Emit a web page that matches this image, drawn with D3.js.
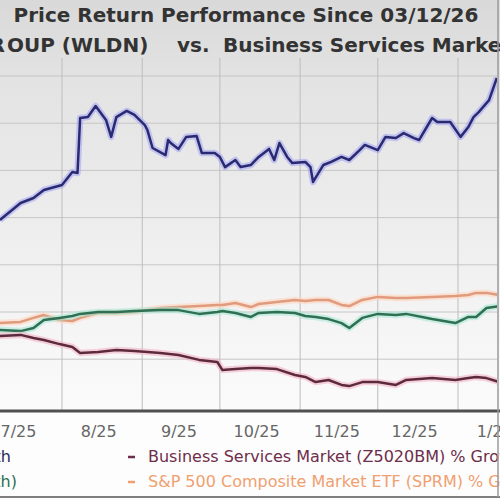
<!DOCTYPE html>
<html>
<head>
<meta charset="utf-8">
<script src="https://cdnjs.cloudflare.com/ajax/libs/d3/7.8.5/d3.min.js"></script>
<style>
  html, body { margin: 0; padding: 0; background: #fff; }
  svg { display: block; }
  .title { font-family: "DejaVu Sans", sans-serif; font-weight: bold; fill: #333; }
  .legend { font-family: "DejaVu Sans", sans-serif; font-size: 16px; }
  .tick text { font-family: "DejaVu Sans", sans-serif; font-size: 16px; fill: #666; }
</style>
</head>
<body>
<div id="chart"></div>
<script>
// WLDN price return, %
let wldnDates = ["2025-07-08","2025-07-16","2025-07-21","2025-07-25","2025-08-01","2025-08-05","2025-08-07",
  "2025-08-08","2025-08-11","2025-08-14","2025-08-18","2025-08-20","2025-08-22","2025-08-26","2025-08-29",
  "2025-09-02","2025-09-03","2025-09-05","2025-09-10","2025-09-11","2025-09-12","2025-09-15","2025-09-18",
  "2025-09-22","2025-09-24","2025-09-29","2025-10-01","2025-10-03","2025-10-07","2025-10-09","2025-10-13",
  "2025-10-16","2025-10-20","2025-10-22","2025-10-24","2025-10-27","2025-10-29","2025-11-03","2025-11-05",
  "2025-11-06","2025-11-10","2025-11-13","2025-11-17","2025-11-20","2025-11-24","2025-11-26","2025-12-01",
  "2025-12-04","2025-12-08","2025-12-11","2025-12-15","2025-12-17","2025-12-22","2025-12-24","2025-12-29",
  "2026-01-02","2026-01-05","2026-01-07","2026-01-09","2026-01-13","2026-01-16"];
let wldnValues = [39.0,46.2,48.3,51.7,53.8,59.3,58.9,
  82.2,82.6,87.3,81.4,74.2,82.6,85.2,83.5,
  79.2,77.1,69.5,66.5,72.9,71.6,69.1,74.2,
  74.6,67.4,67.4,65.7,61.4,64.4,61.4,62.3,
  65.7,69.1,64.4,71.6,65.7,63.1,63.6,61.4,
  55.1,62.3,63.6,65.7,64.4,68.6,70.8,68.6,
  74.2,73.7,75.8,73.7,72.9,82.2,80.5,80.5,
  74.2,78.4,82.6,84.7,89.8,99.2];

// the three comparison series share these dates
let otherDates = ["2025-07-08","2025-07-16","2025-07-21","2025-07-25","2025-07-31","2025-08-05","2025-08-08",
  "2025-08-15","2025-08-22","2025-08-29","2025-09-08","2025-09-15","2025-09-23","2025-09-30","2025-10-02",
  "2025-10-07","2025-10-13","2025-10-16","2025-10-23","2025-10-30","2025-11-03","2025-11-07","2025-11-12",
  "2025-11-17","2025-11-20","2025-11-25","2025-12-01","2025-12-08","2025-12-12","2025-12-22","2025-12-31",
  "2026-01-05","2026-01-08","2026-01-12","2026-01-17"];
let spValues = [-4.7,-4.2,-2.5,-1.3,-3.4,-3.8,-2.5,-0.4,-0.4,0,1.7,2.1,2.5,3.0,3.0,3.8,2.1,3.4,4.2,5.1,
  4.7,5.1,5.1,3.0,2.5,5.1,6.4,5.9,5.9,6.4,6.8,7.2,8.1,8.1,7.2];
let sectorValues = [-7.6,-8.1,-6.8,-3.4,-2.5,-1.7,-0.8,0,0,0.4,0.8,0.8,-0.8,0,0.4,-0.4,-2.1,-0.4,0,-0.4,
  -1.7,-2.1,-3.0,-4.7,-6.8,-2.5,-0.8,-1.3,-0.8,-3.0,-4.7,-2.1,-2.1,1.7,2.5];
let industryValues = [-10.2,-9.7,-11.0,-11.9,-13.6,-14.8,-17.4,-16.9,-16.1,-16.5,-17.4,-18.2,-20.3,-21.2,
  -24.6,-24.2,-23.7,-23.7,-24.2,-26.7,-27.5,-29.7,-28.8,-30.9,-31.4,-29.7,-29.7,-30.9,-28.8,-28.0,-28.8,
  -28.0,-27.5,-28.0,-29.7];

let gridValues = [-20, 0, 20, 40, 60, 80, 100];
let monthStarts = ["2025-08-01","2025-09-01","2025-10-01","2025-11-01","2025-12-01","2026-01-01"];
let monthLabels = ["2025-07-15","2025-08-15","2025-09-15","2025-10-15","2025-11-15","2025-12-15","2026-01-15"];

let leftLegend = ["Willdan Group (WLDN) Price % Growth", "Zacks Business Services Sector (% Growth)"];
let rightLegend = ["Business Services Market (Z5020BM) % Growth", "S&P 500 Composite Market ETF (SPRM) % Growth"];

const w = 500, h = 500;
const plotTop = 58, plotBottom = 411, plotRight = 497;
const parse = d3.timeParse("%Y-%m-%d");

const xScale = d3.scaleTime()
                 .domain([parse("2025-08-01"), parse("2026-01-01")])
                 .range([62, 458]);
const yScale = d3.scaleLinear()
                 .domain([-40, 100])
                 .range([406.4, 76]);

const svg = d3.select("#chart")
              .append("svg")
              .attr("width", w)
              .attr("height", h);

const defs = svg.append("defs");
const grad = defs.append("linearGradient")
                 .attr("id", "bg").attr("x1", 0).attr("y1", 0).attr("x2", 0).attr("y2", 1);
grad.append("stop").attr("offset", "0").attr("stop-color", "#d9d9d9");
grad.append("stop").attr("offset", "0.2").attr("stop-color", "#e3e3e3");
grad.append("stop").attr("offset", "1").attr("stop-color", "#fbfbfb");
defs.append("clipPath").attr("id", "clip")
    .append("rect").attr("x", 0).attr("y", plotTop).attr("width", plotRight).attr("height", plotBottom - plotTop);

svg.append("rect").attr("width", w).attr("height", h).attr("fill", "#fdfdfd");
svg.append("rect").attr("width", w).attr("height", plotBottom).attr("fill", "url(#bg)");

// grid
svg.append("g").selectAll("line")
   .data(gridValues).join("line")
   .attr("x1", 0).attr("x2", plotRight)
   .attr("y1", d => yScale(d)).attr("y2", d => yScale(d))
   .attr("stroke", "#c6c6c6").attr("stroke-width", 1);
svg.append("g").selectAll("line")
   .data(monthStarts).join("line")
   .attr("x1", d => xScale(parse(d))).attr("x2", d => xScale(parse(d)))
   .attr("y1", plotTop).attr("y2", plotBottom)
   .attr("stroke", "#bdbdbd").attr("stroke-width", 1);

// lines
const series = [
  {dates: otherDates, values: spValues, color: "#e09a7c", halo: "#ffd6c0"},
  {dates: otherDates, values: sectorValues, color: "#2f6f52", halo: "#a8e6d6"},
  {dates: otherDates, values: industryValues, color: "#5c2a3c", halo: "#f2b4c4"},
  {dates: wldnDates, values: wldnValues, color: "#2a2a72", halo: "#a9a9f2"}
];
const line = d3.line()
               .x(d => xScale(d[0]))
               .y(d => yScale(d[1]));
const lineG = svg.append("g").attr("clip-path", "url(#clip)");
series.forEach(s => {
  let pts = s.dates.map((d, i) => [parse(d), s.values[i]]);
  lineG.append("path").datum(pts)
       .attr("d", line).attr("fill", "none")
       .attr("stroke", s.halo).attr("stroke-width", 6.5).attr("stroke-opacity", 0.6)
       .attr("stroke-linejoin", "round");
  lineG.append("path").datum(pts)
       .attr("d", line).attr("fill", "none")
       .attr("stroke", s.color).attr("stroke-width", 2.5)
       .attr("stroke-linejoin", "round");
});

// x axis
const xAxis = d3.axisBottom(xScale)
                .tickValues(monthLabels.map(parse))
                .tickFormat(d3.timeFormat("%-m/%y"))
                .tickSize(0)
                .tickPadding(14.5);
const ax = svg.append("g")
   .attr("id", "x-axis")
   .attr("transform", "translate(0," + plotBottom + ")")
   .call(xAxis);
ax.select(".domain").remove();
svg.append("line")
   .attr("x1", 0).attr("x2", w).attr("y1", plotBottom).attr("y2", plotBottom)
   .attr("stroke", "#505050").attr("stroke-width", 3);

// titles
svg.append("text").attr("class", "title")
   .attr("x", 246).attr("y", 22).attr("text-anchor", "middle").attr("font-size", 20)
   .text("Price Return Performance Since 03/12/26");
svg.append("text").attr("class", "title")
   .attr("x", 5).attr("y", 52).attr("text-anchor", "end").attr("font-size", 20)
   .text("WILLDAN GR");
svg.append("text").attr("class", "title")
   .attr("x", 7).attr("y", 52).attr("font-size", 20)
   .text("OUP (WLDN)");
svg.append("text").attr("class", "title")
   .attr("x", 177).attr("y", 52).attr("font-size", 20)
   .text("vs.");
svg.append("text").attr("class", "title")
   .attr("x", 223).attr("y", 52).attr("font-size", 20)
   .text("Business Services Market (Z5020BM)");

// legend
const leftColors = ["#2a2a5a", "#2f6f52"];
const rightColors = ["#6e2d4a", "#f0a070"];
const rowY = [462, 487];
const leftEnds = [11, 17];
leftLegend.forEach((t, i) => {
  svg.append("text").attr("class", "legend")
     .attr("x", leftEnds[i]).attr("y", rowY[i]).attr("text-anchor", "end")
     .attr("fill", leftColors[i]).text(t);
});
rightLegend.forEach((t, i) => {
  svg.append("line")
     .attr("x1", 128).attr("x2", 135).attr("y1", rowY[i] - 5).attr("y2", rowY[i] - 5)
     .attr("stroke", rightColors[i]).attr("stroke-width", 2.5);
  svg.append("text").attr("class", "legend")
     .attr("x", 148).attr("y", rowY[i])
     .attr("fill", rightColors[i]).text(t);
});

// frame
svg.append("line").attr("x1", 0).attr("x2", w).attr("y1", 497).attr("y2", 497)
   .attr("stroke", "#555").attr("stroke-width", 1.5);
svg.append("line").attr("x1", 498).attr("x2", 498).attr("y1", 0).attr("y2", 497)
   .attr("stroke", "#9a9a9a").attr("stroke-width", 1.5);
</script>
</body>
</html>
